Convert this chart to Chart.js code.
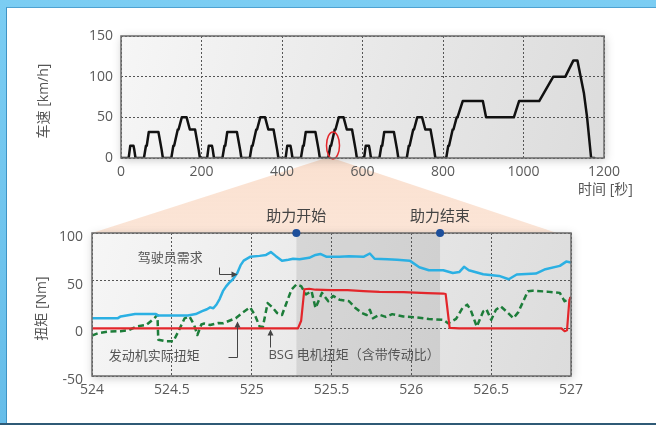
<!DOCTYPE html>
<html>
<head>
<meta charset="utf-8">
<script src="https://cdn.jsdelivr.net/npm/chart.js@4.4.1/dist/chart.umd.min.js"></script>
<style>
html, body { margin: 0; padding: 0; }
body { width: 656px; height: 425px; overflow: hidden; position: relative;
  background: linear-gradient(180deg, #7bcdf3 0%, #66bde9 100%); }
#panel { position: absolute; left: 6px; top: 7px; right: 0; bottom: 2px; background: #fff;
  border-left: 1px solid #3f93c4; border-top: 1px solid #4ea2d2; }
#base { position: absolute; left: 0; right: 0; bottom: 0; height: 2px; background: #2f5a76; }
canvas { position: absolute; left: 0; top: 0; }
</style>
</head>
<body>
<div id="panel"></div>
<div id="base"></div>
<canvas id="torque" width="656" height="425"></canvas>
<canvas id="speed" width="656" height="425"></canvas>
<script>
// ---- Vehicle speed over the full driving cycle [s, km/h] ----
const speedTime = [
  0, 19, 23, 31, 33, 36, 57, 62, 64, 69, 93, 101, 104, 125, 130, 132, 141, 143, 151, 163, 171, 184, 193, 196,
  214, 218, 226, 228, 231, 252, 257, 259, 264, 288, 296, 299, 320, 325, 327, 336, 338, 346, 358, 366, 379, 388, 391,
  409, 413, 421, 423, 426, 447, 452, 454, 459, 483, 491, 494, 515, 520, 522, 531, 533, 541, 553, 561, 574, 583, 586,
  604, 608, 616, 618, 621, 642, 647, 649, 654, 678, 686, 689, 710, 715, 717, 726, 728, 736, 748, 756, 769, 778, 781,
  808, 813, 815, 824, 826, 834, 836, 849, 899, 907, 976, 989, 1039, 1074, 1104, 1124, 1134, 1150, 1158, 1168, 1176
];
const speedKmh = [
  0, 0, 15, 15, 10, 0, 0, 15, 15, 32, 32, 10, 0, 0, 15, 15, 35, 35, 50, 50, 35, 35, 10, 0,
  0, 15, 15, 10, 0, 0, 15, 15, 32, 32, 10, 0, 0, 15, 15, 35, 35, 50, 50, 35, 35, 10, 0,
  0, 15, 15, 10, 0, 0, 15, 15, 32, 32, 10, 0, 0, 15, 15, 35, 35, 50, 50, 35, 35, 10, 0,
  0, 15, 15, 10, 0, 0, 15, 15, 32, 32, 10, 0, 0, 15, 15, 35, 35, 50, 50, 35, 35, 10, 0,
  0, 15, 15, 35, 35, 50, 50, 70, 70, 50, 50, 70, 70, 100, 100, 120, 120, 80, 50, 0, 0
];
const speedTicksX = [0, 200, 400, 600, 800, 1000, 1200];
const speedTicksY = [0, 50, 100, 150];

// ---- Torque detail, 524 s .. 527 s [s, Nm] ----
const demandTime = [524.00, 524.16, 524.18, 524.27, 524.40, 524.41, 524.60, 524.65, 524.69, 524.72, 524.74, 524.76,
  524.78, 524.80, 524.82, 524.84, 524.86, 524.88, 524.91, 524.93, 524.95, 524.99, 525.05, 525.09, 525.12, 525.15,
  525.19, 525.23, 525.26, 525.30, 525.36, 525.40, 525.43, 525.47, 525.55, 525.61, 525.70, 525.74, 525.77, 525.85,
  525.91, 525.99, 526.05, 526.11, 526.20, 526.26, 526.30, 526.33, 526.36, 526.45, 526.55, 526.61, 526.66, 526.78,
  526.84, 526.93, 526.97, 527.00];
const demandNm = [10.5, 10.5, 12.5, 15, 15, 13.5, 13.5, 15, 18, 20, 22, 21,
  25, 31, 39, 44, 48, 51, 58, 66, 71, 75, 76, 77, 80, 76,
  71, 72, 73, 72.5, 74, 77, 78, 75, 75, 75.5, 75, 78.5, 73, 72.5,
  72, 71, 64, 61, 61, 58, 59, 64.5, 61, 56.7, 55, 51.5, 56.5, 57.5,
  62, 65.5, 70, 69];

const engineTime = [524.00, 524.04, 524.10, 524.18, 524.23, 524.28, 524.34, 524.39, 524.41, 524.415, 524.46, 524.51,
  524.54, 524.58, 524.61, 524.64, 524.66, 524.685, 524.70, 524.74, 524.79, 524.82, 524.90, 524.94, 524.99, 525.02,
  525.05, 525.07, 525.10, 525.13, 525.16, 525.19, 525.23, 525.25, 525.28, 525.31, 525.34, 525.375, 525.40, 525.44,
  525.48, 525.51, 525.55, 525.61, 525.65, 525.69, 525.72, 525.74, 525.76, 525.80, 525.84, 525.88, 525.95, 526.03,
  526.11, 526.20, 526.23, 526.28, 526.32, 526.35, 526.37, 526.41, 526.45, 526.47, 526.50, 526.53, 526.56, 526.60,
  526.64, 526.67, 526.73, 526.76, 526.85, 526.93, 526.96, 527.00];
const engineNm = [-7.5, -5, -3.5, -3, -2, 2, 3.5, 10.5, 14, -12, -13.5, -13.5,
  -3.5, 10.5, 12.5, 3.5, -7, 4, 5, 3.5, 5.5, 5.3, 10.6, 16, 22, 14,
  1.8, 1.5, 26.5, 22, 16, 14, 32, 40.8, 46, 44.3, 35.5, 39, 21.3, 37.2,
  28.4, 34, 30, 28.4, 21.3, 16, 14, 19.5, 10.6, 14.2, 12, 14.9, 12.4, 11.5,
  9.9, 8.9, 5.3, 9.9, 21.3, 24.8, 20, 1.8, 17.7, 20, 8.9, 19.5, 23, 17,
  10.6, 17, 39, 39.5, 38.5, 37.2, 28.4, 32];

const bsgTime = [524.00, 525.29, 525.31, 525.33, 525.36, 525.40, 525.50, 525.60, 525.70, 525.80, 525.95,
  526.10, 526.20, 526.215, 526.24, 526.30, 526.94, 526.96, 526.975, 526.99, 527.00];
const bsgNm = [0, 0, 8, 41, 41.5, 40.5, 40, 40, 39, 38.3, 38,
  37, 36.5, 36, 0.5, 0, 0, -3, -2, 30, 33];

const torqueTicksX = [524, 524.5, 525, 525.5, 526, 526.5, 527];
const torqueTicksY = [-50, 0, 50, 100];
const assistWindow = [525.28, 526.18];
const assistLabels = ['助力开始', '助力结束'];

// ---- shared look ----
const NUM_FONT = '"Open Sans", "Noto Sans CJK SC", sans-serif';
const TICK_COLOR = '#5a5a5a';
const pts = (xs, ys) => xs.map((x, i) => ({ x, y: ys[i] }));

function paintPlotBox(chart) {
  const { ctx, chartArea: a } = chart;
  ctx.save();
  ctx.shadowColor = 'rgba(0,0,0,0.22)';
  ctx.shadowBlur = 9;
  ctx.shadowOffsetX = 1;
  ctx.shadowOffsetY = 2;
  const g = ctx.createLinearGradient(a.left, a.top, a.right, a.bottom);
  g.addColorStop(0, '#f6f6f6');
  g.addColorStop(0.6, '#e6e6e6');
  g.addColorStop(1, '#dcdcdc');
  ctx.fillStyle = g;
  ctx.fillRect(a.left, a.top, a.width, a.height);
  ctx.restore();
}
function strokePlotBox(chart) {
  const { ctx, chartArea: a } = chart;
  ctx.save();
  ctx.strokeStyle = '#6b6b6b';
  ctx.lineWidth = 1.5;
  ctx.strokeRect(a.left, a.top, a.width, a.height);
  ctx.restore();
}
function arrowHead(ctx, x, y, dir) {
  // dir: 'up' | 'right'
  ctx.beginPath();
  if (dir === 'up') { ctx.moveTo(x, y); ctx.lineTo(x - 3, y + 6); ctx.lineTo(x + 3, y + 6); }
  else { ctx.moveTo(x, y); ctx.lineTo(x - 6, y - 3); ctx.lineTo(x - 6, y + 3); }
  ctx.closePath();
  ctx.fill();
}
function scaleOpts(min, max, ticks, pad, fitSize, horizontal, labelOffset) {
  return {
    type: 'linear', min, max,
    afterBuildTicks: s => { s.ticks = ticks.map(v => ({ value: v })); },
    afterFit: s => { if (horizontal) s.height = fitSize; else s.width = fitSize; },
    ticks: { color: TICK_COLOR, font: { family: NUM_FONT, size: 14 }, padding: pad, maxRotation: 0,
      autoSkip: false, labelOffset: labelOffset || 0, callback: v => String(v) },
    grid: { color: '#555', lineWidth: 1, drawTicks: false },
    border: { display: false, dash: [2, 2] }
  };
}

// ---- speed chart ----
const speedPlugin = {
  id: 'speedDecor',
  beforeDraw: paintPlotBox,
  afterDatasetsDraw(chart) {
    const { ctx, scales: { x, y } } = chart;
    ctx.save();
    ctx.strokeStyle = '#e3262b';
    ctx.lineWidth = 1.5;
    ctx.beginPath();
    ctx.ellipse(x.getPixelForValue(526.7), y.getPixelForValue(15.5), 6.5, 13.5, 0, 0, Math.PI * 2);
    ctx.stroke();
    ctx.restore();
    strokePlotBox(chart);
  },
  afterDraw(chart) {
    const { ctx, chartArea: a } = chart;
    ctx.save();
    ctx.fillStyle = '#555';
    ctx.font = '14px ' + NUM_FONT;
    ctx.textBaseline = 'middle';
    ctx.textAlign = 'left';
    ctx.fillText('时间 [秒]', a.right - 26, a.bottom + 32);
    ctx.translate(a.left - 77, (a.top + a.bottom) / 2 + 4);
    ctx.rotate(-Math.PI / 2);
    ctx.textAlign = 'center';
    ctx.fillText('车速 [km/h]', 0, 0);
    ctx.restore();
  }
};

const speedChart = new Chart(document.getElementById('speed'), {
  type: 'line',
  data: { datasets: [{
    data: pts(speedTime, speedKmh),
    borderColor: '#111', borderWidth: 2.5, pointRadius: 0, tension: 0,
    borderJoinStyle: 'round', borderCapStyle: 'round'
  }] },
  options: {
    responsive: false, animation: false, devicePixelRatio: 1, events: [],
    layout: { padding: { left: 0, top: 36, right: 52, bottom: 0 } },
    plugins: { legend: { display: false }, tooltip: { enabled: false } },
    scales: {
      x: scaleOpts(0, 1200, speedTicksX, 6, 267, true),
      y: scaleOpts(0, 150, speedTicksY, 8, 121, false)
    }
  },
  plugins: [speedPlugin]
});

// ---- torque chart ----
const torquePlugin = {
  id: 'torqueDecor',
  beforeDraw(chart) {
    const { ctx, chartArea: a, scales: { x } } = chart;
    // funnel from the highlighted spot on the speed trace down to this window
    const sx = speedChart.scales.x, sa = speedChart.chartArea;
    const apex = sx.getPixelForValue(526.7);
    ctx.save();
    const g = ctx.createLinearGradient(0, sa.bottom, 0, a.top);
    g.addColorStop(0, 'rgba(247,200,170,0.55)');
    g.addColorStop(1, 'rgba(247,200,170,0.48)');
    ctx.fillStyle = g;
    ctx.beginPath();
    ctx.moveTo(apex - 7, sa.bottom);
    ctx.lineTo(apex - 1, sa.bottom);
    ctx.lineTo(a.right - 14, a.top);
    ctx.lineTo(a.left, a.top);
    ctx.closePath();
    ctx.fill();
    ctx.restore();

    paintPlotBox(chart);

    // assist window shading
    const x0 = x.getPixelForValue(assistWindow[0]);
    const x1 = x.getPixelForValue(assistWindow[1]);
    ctx.save();
    ctx.fillStyle = 'rgba(0,0,0,0.085)';
    ctx.fillRect(x0, a.top, x1 - x0, a.height);
    ctx.restore();
  },
  afterDatasetsDraw: strokePlotBox,
  afterDraw(chart) {
    const { ctx, chartArea: a, scales: { x, y } } = chart;
    ctx.save();
    // assist start / end markers
    ctx.font = '15px ' + NUM_FONT;
    ctx.textAlign = 'center';
    ctx.textBaseline = 'middle';
    assistWindow.forEach((t, i) => {
      const px = x.getPixelForValue(t);
      ctx.fillStyle = '#444';
      ctx.fillText(assistLabels[i], px, a.top - 16);
      ctx.fillStyle = '#1d4f9b';
      ctx.beginPath();
      ctx.arc(px, a.top, 4, 0, Math.PI * 2);
      ctx.fill();
    });

    // series captions
    ctx.fillStyle = '#555';
    ctx.font = '13px ' + NUM_FONT;
    ctx.fillText('驾驶员需求', x.getPixelForValue(524.49), y.getPixelForValue(73));
    ctx.fillText('发动机实际扭矩', x.getPixelForValue(524.39), y.getPixelForValue(-29));
    ctx.textAlign = 'left';
    ctx.fillText('BSG 电机扭矩（含带传动比）', x.getPixelForValue(525.105), y.getPixelForValue(-28.4));

    // leader lines
    ctx.strokeStyle = '#444';
    ctx.fillStyle = '#444';
    ctx.lineWidth = 1;
    const X = v => Math.round(x.getPixelForValue(v)) + 0.5;
    const Y = v => Math.round(y.getPixelForValue(v)) + 0.5;

    ctx.beginPath();
    ctx.moveTo(X(524.7975), Y(64.6));
    ctx.lineTo(X(524.7975), Y(56.7));
    ctx.lineTo(X(524.902), Y(56.7));
    ctx.stroke();
    arrowHead(ctx, X(524.902) + 1, Y(56.7), 'right');

    ctx.beginPath();
    ctx.moveTo(X(524.854), Y(-30.1));
    ctx.lineTo(X(524.906), Y(-30.1));
    ctx.lineTo(X(524.906), Y(7.1));
    ctx.stroke();
    arrowHead(ctx, X(524.906), Y(7.1) - 1, 'up');

    ctx.beginPath();
    ctx.moveTo(X(525.114), Y(-19.5));
    ctx.lineTo(X(525.114), Y(-1.8));
    ctx.stroke();
    arrowHead(ctx, X(525.114), Y(-1.8) - 1, 'up');

    // axis title
    ctx.fillStyle = '#555';
    ctx.font = '14px ' + NUM_FONT;
    ctx.textAlign = 'center';
    ctx.translate(a.left - 50, (a.top + a.bottom) / 2 + 4);
    ctx.rotate(-Math.PI / 2);
    ctx.fillText('扭矩 [Nm]', 0, 0);
    ctx.restore();
  }
};

new Chart(document.getElementById('torque'), {
  type: 'line',
  data: { datasets: [
    { label: 'BSG', data: pts(bsgTime, bsgNm), borderColor: '#e3262b', borderWidth: 2.2,
      pointRadius: 0, tension: 0, borderJoinStyle: 'round' },
    { label: 'demand', data: pts(demandTime, demandNm), borderColor: '#2bb0e3', borderWidth: 2.5,
      pointRadius: 0, tension: 0, borderJoinStyle: 'round' },
    { label: 'engine', data: pts(engineTime, engineNm), borderColor: '#1d7d3a', borderWidth: 2.5,
      borderDash: [6, 3.5], pointRadius: 0, tension: 0, borderJoinStyle: 'round' }
  ] },
  options: {
    responsive: false, animation: false, devicePixelRatio: 1, events: [],
    layout: { padding: { left: 0, top: 233, right: 85, bottom: 0 } },
    plugins: { legend: { display: false }, tooltip: { enabled: false } },
    scales: {
      x: scaleOpts(524, 527, torqueTicksX, 6, 49, true),
      y: scaleOpts(-50, 100, torqueTicksY, 9, 92, false, 4)
    }
  },
  plugins: [torquePlugin]
});
</script>
</body>
</html>
